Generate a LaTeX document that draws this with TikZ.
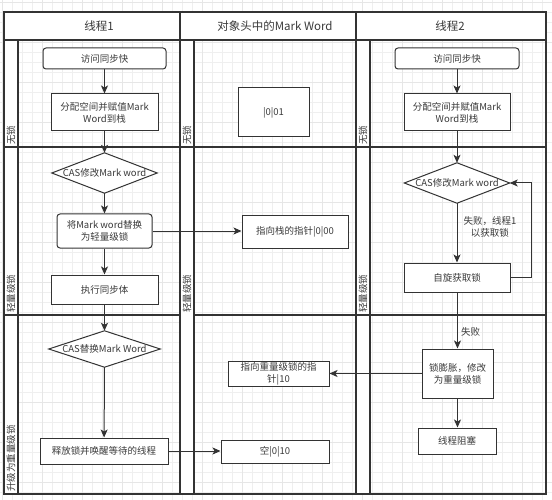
\documentclass[tikz,border=0pt]{standalone}
\usepackage{fontspec}
\setmainfont{Noto Sans CJK SC}
\usetikzlibrary{arrows.meta}
\definecolor{ln}{HTML}{333333}
\definecolor{tx}{HTML}{3A3A3A}
\definecolor{gmin}{HTML}{EFEFEF}
\definecolor{gmaj}{HTML}{E6E6E6}
\begin{document}
\begin{tikzpicture}[x=1pt,y=-1pt,
 box/.style={draw=ln, line width=1pt, fill=white, inner sep=0pt, align=center, font=\fontsize{9.5}{12}\selectfont, text=tx},
 rbox/.style={box, rounded corners=3pt},
 dshape/.style={inner sep=0pt},
 dtext/.style={inner sep=0pt, font=\fontsize{9.5}{12}\selectfont, text=tx},
 arr/.style={draw=ln, line width=1pt, -{Stealth[length=8pt,width=7pt,inset=2pt]}},
 lane/.style={rotate=90, anchor=west, font=\fontsize{9.5}{11}\selectfont, text=tx, inner sep=0pt},
 head/.style={font=\fontsize{11.5}{13}\selectfont, text=tx, inner sep=0pt},
 lbl/.style={font=\fontsize{9.5}{12}\selectfont, text=tx, inner sep=0pt, align=center},
 frame/.style={draw=ln, line width=1.2pt},
]
\useasboundingbox (0,0) rectangle (552,500);
\fill[white] (0,0) rectangle (552,500);
% grid
\foreach \i in {2,12,...,552} \draw[gmin, line width=0.5pt] (\i,0) -- (\i,500);
\foreach \j in {2,12,...,500} \draw[gmin, line width=0.5pt] (0,\j) -- (552,\j);
\foreach \i in {2,42,...,552} \draw[gmaj, line width=0.5pt] (\i,0) -- (\i,500);
\foreach \j in {2,42,...,500} \draw[gmaj, line width=0.5pt] (0,\j) -- (552,\j);
% header and strips
\fill[white] (4,12) rectangle (546,40);
\fill[white] (4,40) rectangle (18,494);
\fill[white] (180,40) rectangle (194,494);
\fill[white] (356,40) rectangle (370,494);
\draw[frame] (4,12) rectangle (546,494);
\draw[frame] (4,40) -- (546,40);
\draw[frame] (180,12) -- (180,494);
\draw[frame] (356,12) -- (356,494);
\draw[frame] (18,40) -- (18,494);
\draw[frame] (194,40) -- (194,494);
\draw[frame] (370,40) -- (370,494);
\draw[frame] (4,147) -- (546,147);
\draw[frame] (4,315) -- (180,315);
\draw[frame] (194,315) -- (546,315);
% headers
\node[head] (h1) at (99,26) {线程1};
\node[head] (h2) at (275,26) {对象头中的Mark Word};
\node[head] (h3) at (450,26) {线程2};
% lane labels
\node[lane] (l11) at (11,145) {无锁};
\node[lane] (l12) at (11,313) {轻量级锁};
\node[lane] (l13) at (11,492) {升级为重量级锁};
\node[lane] (l21) at (187,145) {无锁};
\node[lane] (l22) at (187,313) {轻量级锁};
\node[lane] (l31) at (363,145) {无锁};
\node[lane] (l32) at (363,313) {轻量级锁};
% column 1
\node[rbox, minimum width=123pt, minimum height=21pt] (a1) at (104.5,58.5) {访问同步快};
\node[box, minimum width=107pt, minimum height=37pt] (a2) at (104.5,112.5) {分配空间并赋值Mark\\Word到栈};
\node[dshape, minimum width=105pt, minimum height=40pt] (a3) at (104.5,173) {};
\draw[draw=ln, line width=1pt, fill=white] (a3.north) -- (a3.east) -- (a3.south) -- (a3.west) -- cycle;
\node[dtext] (a3t) at (a3) {CAS修改Mark word};
\node[rbox, minimum width=95pt, minimum height=34pt] (a4) at (104.5,231) {将Mark word替换\\为轻量级锁};
\node[box, minimum width=107pt, minimum height=29pt] (a5) at (104.5,289.5) {执行同步体};
\node[dshape, minimum width=111pt, minimum height=36pt] (a6) at (104.5,349) {};
\draw[draw=ln, line width=1pt, fill=white] (a6.north) -- (a6.east) -- (a6.south) -- (a6.west) -- cycle;
\node[dtext] (a6t) at (a6) {CAS替换Mark Word};
\node[box, minimum width=128pt, minimum height=26pt] (a7) at (104,451) {释放锁并唤醒等待的线程};
% column 2
\node[box, minimum width=71pt, minimum height=49pt] (m1) at (273.5,112.5) {|0|01};
\node[box, minimum width=106pt, minimum height=32pt] (m2) at (295,232) {指向栈的指针|0|00};
\node[box, minimum width=101pt, minimum height=25pt] (m3) at (278.5,373.5) {指向重量级锁的指\\针|10};
\node[box, minimum width=108pt, minimum height=23pt] (m4) at (275,451.5) {空|0|10};
% column 3
\node[rbox, minimum width=124pt, minimum height=21pt] (c1) at (457,58.5) {访问同步快};
\node[box, minimum width=106pt, minimum height=37pt] (c2) at (457,112.5) {分配空间并赋值Mark\\Word到栈};
\node[dshape, minimum width=105pt, minimum height=40pt] (c3) at (457,183) {};
\draw[draw=ln, line width=1pt, fill=white] (c3.north) -- (c3.east) -- (c3.south) -- (c3.west) -- cycle;
\node[dtext] (c3t) at (c3) {CAS修改Mark word};
\node[box, minimum width=106pt, minimum height=29pt] (c4) at (457,277.5) {自旋获取锁};
\node[box, minimum width=71pt, minimum height=49pt] (c5) at (457.5,373.5) {锁膨胀，修改\\为重量级锁};
\node[box, minimum width=78pt, minimum height=26pt] (c6) at (457,441) {线程阻塞};
% arrows column 1
\draw[arr] (a1) -- (a2);
\draw[arr] (a2) -- (a3.north);
\draw[arr] (a3.south) -- (a4);
\draw[arr] (a4) -- (a5);
\draw[arr] (a5) -- (a6.north);
\draw[arr] (a6.south) -- (a7);
\draw[arr] (a4.east) -- (a4.east -| m2.west);
\draw[arr] (a7.east) -- (a7.east -| m4.west);
% arrows column 3
\draw[arr] (c1) -- (c2);
\draw[arr] (c2) -- (c3.north);
\draw[arr] (c3.south) -- (c4.north -| c3.south) node[lbl, pos=0.4, right=6pt] (f1) {失败，线程1\\以获取锁};
\draw[arr] (c4.east) -- ++(21,0) |- (c3.east);
\draw[arr] (c4.south -| c5.north) -- (c5.north) node[lbl, pos=0.7, right=3pt, anchor=west] (f2) {失败};
\draw[arr] (c5.west) -- (c5.west -| m3.east);
\draw[arr] (c5.south) -- (c6.north -| c5.south);
\end{tikzpicture}
\end{document}
